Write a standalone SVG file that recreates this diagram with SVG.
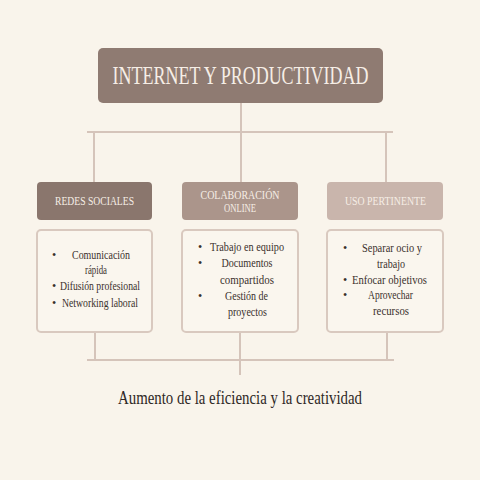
<svg xmlns="http://www.w3.org/2000/svg" width="480" height="480" viewBox="0 0 480 480">
<style>
.bg{fill:#f9f4eb}
.conn{stroke:#d5c4ba;stroke-width:2;fill:none}
.card{fill:#faf6ee;stroke:#d9c9bf;stroke-width:2}
.hd{font-family:"Liberation Serif",serif;font-size:12px;fill:#f6eee6;text-anchor:middle}
.li{font-family:"Liberation Serif",serif;font-size:12px;fill:#3a312d;text-anchor:middle}
.bu{font-family:"Liberation Serif",serif;font-size:12px;fill:#3a312d;text-anchor:middle}
</style>
<rect class="bg" x="0" y="0" width="480" height="480"/>
<g id="connectors">
<path class="conn" d="M241 103V132M87 132H393M94 132V182M386 132V182M241 132V182"/>
<path class="conn" d="M95 332V360M387 332V360M87 360H394M240 332V375"/>
</g>
<g id="title">
<rect x="98" y="48" width="285" height="55" rx="5" fill="#8f7b72"/>
<text x="240.5" y="84" font-family="Liberation Serif,serif" font-size="26" fill="#f6eee6" text-anchor="middle" textLength="256" lengthAdjust="spacingAndGlyphs">INTERNET Y PRODUCTIVIDAD</text>
</g>
<g id="redes">
<rect x="37" y="182" width="115" height="38" rx="4" fill="#8a766d"/>
<text class="hd" x="94.5" y="205" textLength="79" lengthAdjust="spacingAndGlyphs">REDES SOCIALES</text>
<rect class="card" x="37" y="230" width="115" height="102" rx="4"/>
<text class="bu" x="54" y="259">•</text>
<text class="li" x="101" y="259" textLength="58" lengthAdjust="spacingAndGlyphs">Comunicación</text>
<text class="li" x="96" y="274" textLength="22" lengthAdjust="spacingAndGlyphs">rápida</text>
<text class="bu" x="54" y="290">•</text>
<text class="li" x="100" y="290" textLength="80" lengthAdjust="spacingAndGlyphs">Difusión profesional</text>
<text class="bu" x="54" y="307">•</text>
<text class="li" x="100" y="307" textLength="76" lengthAdjust="spacingAndGlyphs">Networking laboral</text>
</g>
<g id="colaboracion">
<rect x="182" y="182" width="116" height="38" rx="4" fill="#ab958b"/>
<text class="hd" x="240" y="199" textLength="79" lengthAdjust="spacingAndGlyphs">COLABORACIÓN</text>
<text class="hd" x="240" y="212" textLength="32" lengthAdjust="spacingAndGlyphs">ONLINE</text>
<rect class="card" x="182" y="230" width="116" height="102" rx="4"/>
<text class="bu" x="200" y="251">•</text>
<text class="li" x="247" y="251" textLength="74" lengthAdjust="spacingAndGlyphs">Trabajo en equipo</text>
<text class="bu" x="200" y="267">•</text>
<text class="li" x="247" y="267" textLength="51" lengthAdjust="spacingAndGlyphs">Documentos</text>
<text class="li" x="247" y="284" textLength="54" lengthAdjust="spacingAndGlyphs">compartidos</text>
<text class="bu" x="200" y="300">•</text>
<text class="li" x="246.5" y="300" textLength="43" lengthAdjust="spacingAndGlyphs">Gestión de</text>
<text class="li" x="247.5" y="316" textLength="39" lengthAdjust="spacingAndGlyphs">proyectos</text>
</g>
<g id="uso">
<rect x="327" y="182" width="116" height="38" rx="4" fill="#c9b5ac"/>
<text class="hd" x="385.5" y="205" textLength="81" lengthAdjust="spacingAndGlyphs">USO PERTINENTE</text>
<rect class="card" x="327" y="230" width="116" height="102" rx="4"/>
<text class="bu" x="345" y="252">•</text>
<text class="li" x="392" y="252" textLength="60" lengthAdjust="spacingAndGlyphs">Separar ocio y</text>
<text class="li" x="391" y="268" textLength="28" lengthAdjust="spacingAndGlyphs">trabajo</text>
<text class="bu" x="345" y="284">•</text>
<text class="li" x="389.5" y="284" textLength="75" lengthAdjust="spacingAndGlyphs">Enfocar objetivos</text>
<text class="bu" x="345" y="299">•</text>
<text class="li" x="390.5" y="299" textLength="45" lengthAdjust="spacingAndGlyphs">Aprovechar</text>
<text class="li" x="391" y="315" textLength="36" lengthAdjust="spacingAndGlyphs">recursos</text>
</g>
<g id="resultado">
<text x="240" y="404" font-family="Liberation Serif,serif" font-size="19" fill="#2f2826" text-anchor="middle" textLength="244" lengthAdjust="spacingAndGlyphs">Aumento de la eficiencia y la creatividad</text>
</g>
</svg>
